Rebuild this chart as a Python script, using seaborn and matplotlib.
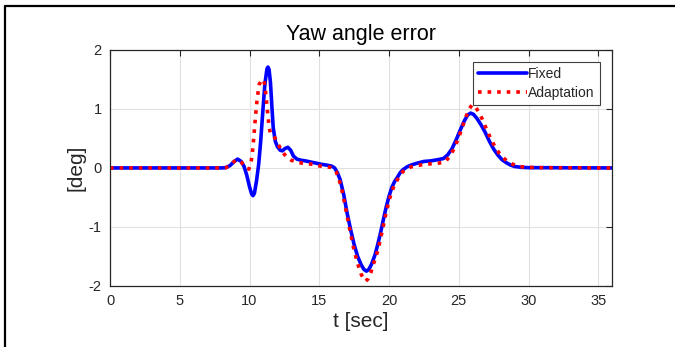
import matplotlib
matplotlib.use("Agg")
import matplotlib.pyplot as plt
from matplotlib.lines import Line2D
import seaborn as sns
import pandas as pd

t_fixed = [0, 8.0, 8.3, 8.6, 8.9, 9.15, 9.4, 9.6, 9.8, 10.0, 10.15, 10.25, 10.35, 10.5,
           10.65, 10.8, 10.95, 11.1, 11.25, 11.32, 11.4, 11.5, 11.6, 11.7, 11.85, 12.0,
           12.2, 12.35, 12.55, 12.75, 12.95, 13.15, 13.4, 13.7, 14.0, 14.4, 14.8, 15.2,
           15.6, 15.9, 16.1, 16.3, 16.5, 16.75, 17.0, 17.25, 17.5, 17.75, 18.0, 18.2,
           18.38, 18.55, 18.75, 19.0, 19.2, 19.4, 19.6, 19.8, 20.0, 20.2, 20.4, 20.6,
           20.8, 21.0, 21.3, 21.6, 22.0, 22.5, 23.0, 23.5, 23.9, 24.2, 24.5, 24.8, 25.1,
           25.4, 25.65, 25.85, 26.05, 26.3, 26.6, 26.9, 27.2, 27.5, 27.8, 28.1, 28.4,
           28.7, 29.0, 29.5, 30.0, 36.0]
y_fixed = [0, 0, 0.005, 0.04, 0.11, 0.15, 0.11, 0.03, -0.12, -0.32, -0.44, -0.47, -0.43,
           -0.22, 0.05, 0.45, 0.95, 1.42, 1.68, 1.71, 1.67, 1.45, 1.05, 0.68, 0.45, 0.36,
           0.30, 0.29, 0.33, 0.35, 0.30, 0.20, 0.15, 0.13, 0.12, 0.10, 0.08, 0.06, 0.045,
           0.03, 0.0, -0.08, -0.2, -0.45, -0.77, -1.05, -1.3, -1.5, -1.64, -1.72, -1.75,
           -1.72, -1.63, -1.47, -1.29, -1.09, -0.87, -0.66, -0.48, -0.33, -0.23, -0.16,
           -0.08, -0.03, 0.02, 0.05, 0.08, 0.11, 0.12, 0.14, 0.16, 0.22, 0.32, 0.47, 0.64,
           0.8, 0.9, 0.93, 0.91, 0.84, 0.73, 0.6, 0.45, 0.32, 0.22, 0.14, 0.09, 0.05,
           0.025, 0.01, 0.005, 0]

t_adapt = [0, 8.0, 8.3, 8.6, 8.9, 9.15, 9.4, 9.6, 9.8, 9.95, 10.1, 10.2, 10.3, 10.42,
           10.55, 10.7, 10.85, 11.0, 11.1, 11.25, 11.4, 11.5, 11.7, 11.9, 12.1, 12.3,
           12.5, 12.7, 13.0, 13.4, 13.8, 14.2, 14.6, 15.0, 15.4, 15.8, 16.0, 16.2, 16.4,
           16.6, 16.8, 17.0, 17.25, 17.5, 17.75, 18.0, 18.2, 18.32, 18.5, 18.7, 18.95,
           19.2, 19.4, 19.6, 19.8, 20.0, 20.2, 20.4, 20.6, 20.8, 21.0, 21.3, 21.6, 22.0,
           22.5, 23.0, 23.5, 24.0, 24.3, 24.6, 24.9, 25.2, 25.5, 25.75, 25.95, 26.15,
           26.4, 26.7, 27.0, 27.3, 27.6, 27.9, 28.2, 28.5, 28.8, 29.1, 29.5, 30.0, 31.0,
           36.0]
y_adapt = [0, 0, 0.005, 0.04, 0.11, 0.14, 0.10, 0.04, 0.0, -0.02, 0.08, 0.25, 0.5, 0.85,
           1.18, 1.42, 1.48, 1.5, 1.4, 1.05, 0.7, 0.58, 0.55, 0.48, 0.38, 0.3, 0.23, 0.18,
           0.13, 0.1, 0.08, 0.07, 0.06, 0.035, 0.02, 0.01, -0.01, -0.06, -0.18, -0.35,
           -0.58, -0.82, -1.12, -1.4, -1.62, -1.8, -1.89, -1.92, -1.88, -1.77, -1.58,
           -1.40, -1.19, -0.97, -0.75, -0.55, -0.4, -0.28, -0.2, -0.12, -0.06, -0.01, 0.02,
           0.04, 0.06, 0.07, 0.08, 0.1, 0.18, 0.3, 0.46, 0.65, 0.86, 1.0, 1.07, 1.05, 0.96,
           0.82, 0.65, 0.49, 0.36, 0.25, 0.17, 0.11, 0.07, 0.04, 0.02, 0.01, 0.005, 0]

x_ticks = [0, 5, 10, 15, 20, 25, 30, 35]
y_ticks = [-2, -1, 0, 1, 2]

sns.set_theme(style="whitegrid")
plt.rcParams['font.family'] = ['Liberation Sans', 'DejaVu Sans']
plt.rcParams['axes.unicode_minus'] = False

fixed = pd.DataFrame({'t': t_fixed, 'y': y_fixed})
adapt = pd.DataFrame({'t': t_adapt, 'y': y_adapt})

fig = plt.figure(figsize=(6.75, 3.47), dpi=100)
ax = fig.add_axes([0.163, 0.176, 0.744, 0.68])

sns.lineplot(data=fixed, x='t', y='y', ax=ax, color=(0, 0, 1), lw=2.6, label='Fixed')
sns.lineplot(data=adapt, x='t', y='y', ax=ax, color=(1, 0, 0), lw=2.6, ls=':', label='Adaptation')

ax.set_xlim(0, 36)
ax.set_ylim(-2, 2)
ax.set_xticks(x_ticks)
ax.set_yticks(y_ticks)
ax.set_facecolor('white')
ax.grid(True, color=(0.88, 0.88, 0.88), lw=0.8)
for s in ax.spines.values():
    s.set_color((0.15, 0.15, 0.15))
    s.set_linewidth(0.9)
ax.tick_params(direction='in', length=4, width=0.8, color=(0.15, 0.15, 0.15),
               top=True, right=True, labelsize=10.5, labelcolor=(0.15, 0.15, 0.15), pad=6)

ax.set_title('Yaw angle error', fontsize=15.5, pad=7, color='black')
ax.set_xlabel('t [sec]', fontsize=15, color=(0.15, 0.15, 0.15), labelpad=3)
ax.set_ylabel('[deg]', fontsize=15, color=(0.15, 0.15, 0.15), labelpad=2)

leg = ax.legend(loc='upper right', bbox_to_anchor=(0.975, 0.95), fontsize=10,
                frameon=True, fancybox=False, framealpha=1, edgecolor=(0.25, 0.25, 0.25),
                handlelength=3.5, handletextpad=0.1, borderpad=0.35, labelspacing=0.4,
                borderaxespad=0)
leg.get_frame().set_linewidth(0.8)

# frame of the screenshot: top and left edges
fig.add_artist(Line2D([0.007, 1.0], [0.983, 0.983], color='black', lw=1.6))
fig.add_artist(Line2D([0.007, 0.007], [0.0, 0.983], color='black', lw=1.6))

fig.savefig('out.png', dpi=100)
